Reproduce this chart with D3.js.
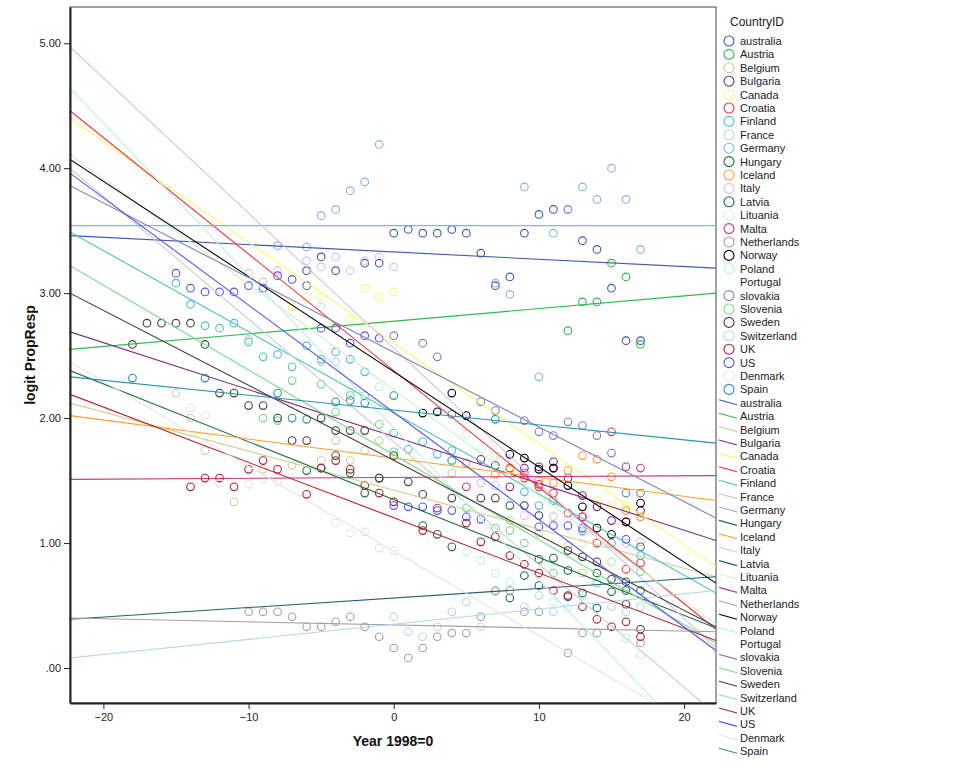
<!DOCTYPE html>
<html><head><meta charset="utf-8">
<script src="https://cdn.jsdelivr.net/npm/d3@7"></script>
<style>body{margin:0;background:#fff}svg{display:block}text{font-family:"Liberation Sans",Arial,sans-serif}</style>
</head><body><svg id="c" width="956" height="765"></svg>
<script>
const countries = ["australia","Austria","Belgium","Bulgaria","Canada","Croatia","Finland","France","Germany","Hungary","Iceland","Italy","Latvia","Lituania","Malta","Netherlands","Norway","Poland","Portugal","slovakia","Slovenia","Sweden","Switzerland","UK","US","Denmark","Spain"];
const countryColors = ["#3e58ac","#2eb848","#d3ce97","#7c287d","#fbf873","#ef3338","#48c2c5","#cccccc","#8ab0e0","#1f6b3f","#ff9d2b","#dcbcf0","#1f5e78","#ccf5c8","#c23b83","#a0a0a0","#000000","#bdeded","#ffffff","#8080b8","#6fdc7f","#404040","#b3d4f5","#b01e2e","#5555f2","#e4e4e4","#2a8eb2"];

const ptsAustralia = [[-6,3.18],[-5,3.29],[-4,3.18],[-2,3.24],[-1,3.24],[0,3.48],[1,3.51],[2,3.48],[3,3.48],[4,3.51],[5,3.48],[6,3.32],[7,3.06],[8,3.13],[9,3.48],[10,3.63],[11,3.67],[12,3.67],[13,3.42],[14,3.35],[15,3.04],[16,2.62],[17,2.62]];
const ptsAustria = [[12,2.70],[13,2.93],[14,2.93],[15,3.24],[16,3.13],[17,2.59]];
const ptsBelgium = [[-15,2.2],[-14,2.0],[-13,1.74],[-11,1.33],[-9,1.59],[-7,1.62],[-5,1.66],[-4,1.82],[-3,1.66],[-2,1.74],[-1,1.82],[4,1.56],[8,1.18],[10,1.08],[12,0.98],[13,0.76],[15,0.85],[17,1.01]];
const ptsBulgaria = [[4,1.66],[6,1.67],[7,1.62],[8,1.45],[9,1.60],[10,1.61],[11,1.65],[12,1.52],[13,1.38],[14,1.29],[15,1.18],[16,1.17],[17,1.26]];
const ptsCanada = [[-7,2.90],[-6,2.97],[-5,2.97],[-3,2.79],[-2,3.04],[-1,2.97],[0,3.01],[14,1.34],[15,1.30],[16,1.30],[17,1.21]];
const ptsCroatia = [[8,1.60],[9,1.52],[10,1.47],[11,1.40],[12,1.24],[13,1.21],[14,1.00],[16,0.79],[17,0.84]];
const ptsFinland = [[-15,3.08],[-14,2.91],[-13,2.74],[-12,2.72],[-11,2.76],[-10,2.61],[-9,2.49],[-8,2.51],[-7,2.41],[-6,2.58],[-5,2.47],[-4,2.53],[-3,2.47],[-2,2.37],[0,1.88],[1,1.75],[2,1.81],[3,1.71],[4,1.74],[9,1.41],[10,1.30],[11,1.34],[13,1.10],[15,1.00],[17,0.90]];
const ptsFrance = [[-10,2.63],[-5,2.45],[-4,2.45],[7,0.61],[15,0.49]];
const ptsGermany = [[-8,3.38],[-6,3.37],[-5,3.62],[-4,3.67],[-3,3.82],[-2,3.89],[-1,4.19],[7,3.08],[8,2.99],[9,3.85],[10,2.33],[11,3.48],[12,3.67],[13,3.85],[14,3.75],[15,4.00],[16,3.75],[17,3.35]];
const ptsHungary = [[-6,1.58],[-5,1.60],[-4,1.70],[-3,1.56],[-2,1.40],[-1,1.52],[2,1.14],[3,1.07],[4,0.97],[8,1.30],[10,0.87],[11,0.88],[12,0.78],[14,0.76],[15,0.61],[16,0.62],[17,0.62]];
const ptsIceland = [[5,1.64],[7,1.55],[8,1.59],[10,1.50],[11,1.48],[12,1.58],[13,1.70],[14,1.67],[15,1.53],[16,1.26],[17,1.21]];
const ptsItaly = [[-10,3.16],[-9,3.09],[-8,3.18],[-6,3.26],[-5,3.21],[-4,3.29],[-3,3.18],[-2,3.26],[-1,3.29],[0,3.21],[6,1.48],[7,1.46],[9,1.22],[11,1.21],[13,1.09],[16,1.00]];
const ptsLatvia = [[8,0.56],[9,0.74],[10,0.66],[12,0.57],[13,0.60],[14,0.48],[16,0.69]];
const ptsLituania = [[5,1.87],[6,1.75],[7,1.70],[9,1.50],[11,1.22],[13,1.00],[15,0.85]];
const ptsMalta = [[3,1.28],[5,1.45],[9,1.56],[10,1.45],[11,1.60],[13,1.21],[15,1.89],[16,1.61],[17,1.60]];
const ptsNetherlands = [[-10,0.45],[-9,0.45],[-8,0.45],[-7,0.41],[-6,0.33],[-5,0.33],[-4,0.37],[-3,0.41],[-2,0.33],[-1,0.25],[0,0.16],[1,0.08],[2,0.16],[3,0.25],[4,0.28],[5,0.28],[6,0.41],[7,0.62],[8,0.62],[9,0.45],[10,0.45],[12,0.12],[13,0.28],[14,0.28],[17,0.20]];
const ptsNorway = [[2,2.04],[3,2.05],[4,2.20],[5,2.02],[8,1.71],[9,1.68],[10,1.59],[11,1.60],[12,1.46],[13,1.29],[14,1.12],[15,1.07],[16,1.17],[17,1.32]];
const ptsPoland = [[-5,2.89],[-3,2.21],[-1,2.25],[5,0.93],[6,0.86],[7,0.76],[8,0.69],[11,0.53],[12,0.48],[16,0.24],[17,0.10]];
const ptsPortugal = [];
const ptsSlovakia = [[0,2.66],[2,2.60],[3,2.49],[4,2.03],[6,2.13],[7,2.06],[9,1.98],[10,1.89],[11,1.86],[12,1.97],[13,1.94],[14,1.86],[15,1.72],[16,1.40],[17,1.40]];
const ptsSlovenia = [[-9,2.00],[-8,1.98],[-7,2.30],[-5,2.27],[-4,2.05],[-3,2.18],[-2,2.18],[-1,1.95],[0,1.73],[4,1.66],[5,1.28],[7,1.12],[8,1.10],[9,1.00],[11,0.76],[14,0.68],[17,0.77]];
const ptsSweden = [[-18,2.59],[-17,2.76],[-16,2.76],[-15,2.76],[-14,2.76],[-13,2.59],[-12,2.20],[-11,2.20],[-10,2.10],[-9,2.10],[-8,2.00],[-7,1.82],[-6,1.82],[-5,2.00],[-4,1.90],[-3,1.90],[-2,1.90],[-1,1.52],[0,1.70],[1,1.49],[2,1.39],[4,1.36],[6,1.36],[7,1.36],[9,1.30],[10,1.22],[12,0.94],[13,0.89],[14,0.85],[15,0.71],[16,0.51],[17,0.31]];
const ptsSwitzerland = [[0,0.41],[1,0.29],[2,0.25],[3,0.33],[4,0.45],[5,0.53],[6,0.33],[9,0.49],[10,0.58],[11,0.45],[13,0.58],[16,0.45],[17,0.49]];
const ptsUK = [[-14,1.45],[-13,1.52],[-12,1.52],[-11,1.45],[-10,1.59],[-9,1.66],[-8,1.59],[-6,1.39],[-5,1.60],[-4,1.66],[-3,1.59],[-2,1.46],[-1,1.40],[0,1.33],[2,1.10],[5,1.16],[6,1.01],[7,1.05],[8,0.90],[9,0.83],[10,0.76],[11,0.62],[12,0.58],[13,0.49],[14,0.39],[15,0.33],[16,0.37],[17,0.25]];
const ptsUS = [[-15,3.16],[-14,3.04],[-13,3.01],[-12,3.01],[-11,3.01],[-10,3.06],[-9,3.04],[-8,3.14],[-7,3.11],[-6,3.06],[-5,2.72],[-4,2.72],[-3,2.60],[-2,2.66],[-1,2.64],[0,1.30],[1,1.29],[2,1.29],[3,1.26],[4,1.26],[5,1.21],[6,1.19],[10,1.13],[11,1.14],[12,1.14],[13,1.12],[16,1.03],[17,0.97]];
const ptsDenmark = [[-14,2.08],[-13,2.02],[-12,1.48],[-10,1.47],[-9,1.51],[-8,1.49],[-4,1.16],[-3,1.08],[-2,1.09],[-1,0.96],[0,0.94]];
const ptsSpain = [[-18,2.32],[-13,2.32],[-8,2.20],[-7,2.00],[-6,1.99],[-4,2.13],[-3,2.14],[-2,2.12],[0,2.18],[7,1.99]];
const countryPoints = [ptsAustralia,ptsAustria,ptsBelgium,ptsBulgaria,ptsCanada,ptsCroatia,ptsFinland,ptsFrance,ptsGermany,ptsHungary,ptsIceland,ptsItaly,ptsLatvia,ptsLituania,ptsMalta,ptsNetherlands,ptsNorway,ptsPoland,ptsPortugal,ptsSlovakia,ptsSlovenia,ptsSweden,ptsSwitzerland,ptsUK,ptsUS,ptsDenmark,ptsSpain];

// fit line values at the left (x=-22.3) and right (x=22.2) ends of the axis
const fitXRange = [-22.3, 22.2];
const fitLeft  = [3.46,2.55,2.12,2.69,4.40,4.46,3.49,4.00,3.54,2.38,2.02,4.97,0.39,4.11,1.51,0.40,4.07,4.64,null,3.86,3.22,3.00,0.08,2.19,3.96,2.45,2.33];
const fitRight = [3.20,3.00,0.73,1.02,0.81,0.31,0.60,-0.37,3.54,0.32,1.34,0.16,0.73,0.35,1.54,0.29,0.68,-0.78,null,1.20,0.20,0.33,0.62,0.22,0.14,-0.57,1.80];

const xTicks = [-20,-10,0,10,20];
const yTicks = [0,1,2,3,4,5];

const svg = d3.select("#c");
const L=70,R=716,T=7,B=703;
const x = d3.scaleLinear().domain(fitXRange).range([L,R]);
const y = d3.scaleLinear().domain([-0.28,5.29]).range([B,T]);

svg.append("clipPath").attr("id","clip").append("rect").attr("x",L).attr("y",T).attr("width",R-L).attr("height",B-T);
svg.append("rect").attr("x",L).attr("y",T).attr("width",R-L).attr("height",B-T).attr("fill","none").attr("stroke","#444").attr("stroke-width",1);

const g = svg.append("g").attr("clip-path","url(#clip)");
countries.forEach((c,i)=>{
  g.append("g").selectAll("circle").data(countryPoints[i]).join("circle")
    .attr("cx",d=>x(d[0])).attr("cy",d=>y(d[1])).attr("r",3.8)
    .attr("fill","none").attr("stroke",countryColors[i]).attr("stroke-width",1.1);
});
countries.forEach((c,i)=>{
  if(fitLeft[i]==null) return;
  g.append("line").attr("x1",x(fitXRange[0])).attr("y1",y(fitLeft[i]))
   .attr("x2",x(fitXRange[1])).attr("y2",y(fitRight[i]))
   .attr("stroke",countryColors[i]).attr("stroke-width",1.1);
});

// axes
const xa = svg.append("g").attr("transform",`translate(0,${B})`).call(d3.axisBottom(x).tickValues(xTicks).tickSizeInner(6).tickSizeOuter(0).tickPadding(4).tickFormat(d3.format("d")));
const ya = svg.append("g").attr("transform",`translate(${L},0)`).call(d3.axisLeft(y).tickValues(yTicks).tickSizeInner(6).tickSizeOuter(0).tickPadding(3).tickFormat(d=>d===0?".00":d3.format(".2f")(d)));
[xa,ya].forEach(a=>{a.select(".domain").attr("stroke","#222").attr("stroke-width",2);
  a.selectAll("line").attr("stroke","#222");
  a.selectAll("text").attr("font-size",11).attr("fill","#222").attr("font-family","Liberation Sans, Arial");});

svg.append("text").attr("x",393).attr("y",746).attr("text-anchor","middle").attr("font-size",14).attr("font-weight","bold").attr("fill","#111").text("Year 1998=0");
svg.append("text").attr("transform","translate(35,355) rotate(-90)").attr("text-anchor","middle").attr("font-size",14).attr("font-weight","bold").attr("fill","#111").text("logit PropResp");

// legend
const lg = svg.append("g");
lg.append("text").attr("x",730).attr("y",26).attr("font-size",12).attr("fill","#222").text("CountryID");
const step = 13.4, y0 = 41;
countries.forEach((c,i)=>{
  const yy = y0 + i*step;
  if(countryColors[i]!=="#ffffff")
    lg.append("circle").attr("cx",729).attr("cy",yy).attr("r",5).attr("fill","none").attr("stroke",countryColors[i]).attr("stroke-width",1.1);
  lg.append("text").attr("x",740).attr("y",yy+4).attr("font-size",11).attr("fill","#222").text(c);
});
countries.forEach((c,i)=>{
  const yy = y0 + (i+countries.length)*step;
  if(countryColors[i]!=="#ffffff")
    lg.append("line").attr("x1",719).attr("y1",yy-3).attr("x2",737).attr("y2",yy+2).attr("stroke",countryColors[i]).attr("stroke-width",1.1);
  lg.append("text").attr("x",740).attr("y",yy+4).attr("font-size",11).attr("fill","#222").text(c);
});
</script></body></html>
